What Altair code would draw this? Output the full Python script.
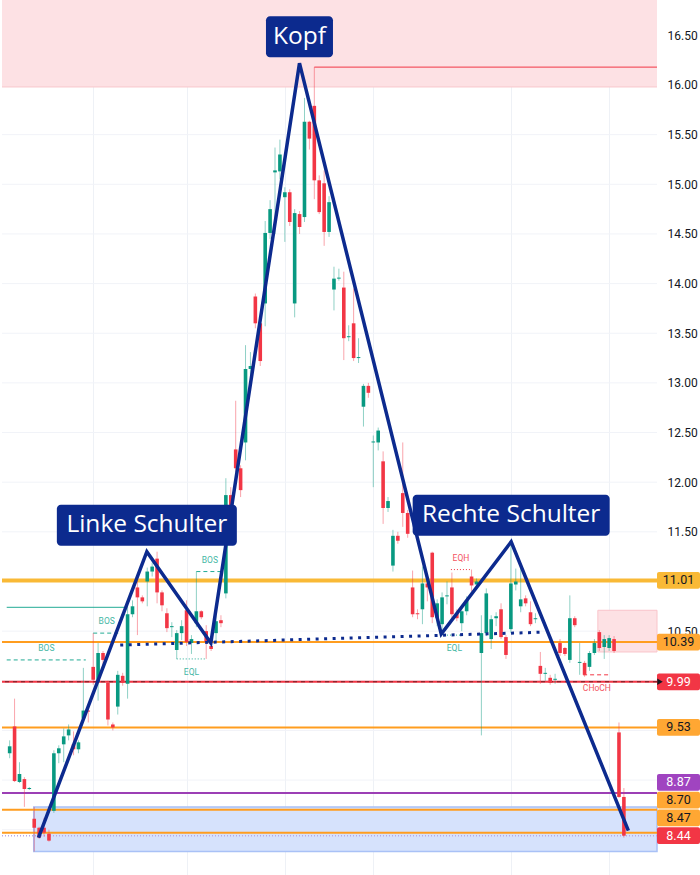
import altair as alt
import pandas as pd

# ---- daily candles (open / high / low / close) ----
opens = [9.27, 9.54, 8.98, 9.01, 8.91, 8.61, 8.52, 8.52, 8.46, 8.69,
         9.27, 9.36, 9.45, 9.36, 9.31, 9.62, 9.70, 10.14, 9.99, 10.28,
         9.98, 9.56, 9.74, 10.05, 9.97, 10.67, 10.94, 10.84, 11.00, 11.10,
         11.23, 10.89, 10.68, 10.54, 10.31, 10.48, 10.71, 10.38, 10.58, 10.70,
         10.50, 10.35, 10.48, 10.61, 10.88, 11.87, 12.33, 12.14, 12.40, 13.14,
         13.87, 13.60, 13.80, 14.51, 15.12, 15.13, 14.87, 14.92, 13.80, 14.70,
         14.67, 15.63, 15.79, 15.04, 15.01, 14.52, 13.94, 14.05, 13.96, 13.46,
         13.60, 13.25, 12.76, 12.97, 12.40, 12.40, 12.21, 11.74, 11.16, 11.46,
         11.89, 11.69, 10.94, 10.68, 10.72, 10.98, 11.29, 10.63, 10.57, 10.85,
         10.94, 10.68, 10.58, 10.70, 11.05, 10.97, 10.28, 10.48, 10.42, 10.63,
         10.72, 10.44, 10.52, 10.97, 10.75, 10.83, 10.69, 10.62, 10.15, 10.07,
         10.03, 10.01, 10.38, 10.33, 10.21, 10.63, 10.18, 10.18, 10.14, 10.28,
         10.49, 10.34, 10.33, 10.42, 9.48, 8.83]
highs = [9.40, 9.82, 9.18, 9.03, 8.93, 8.73, 8.53, 8.62, 8.50, 9.30,
         9.35, 9.52, 9.56, 9.49, 9.40, 10.13, 9.72, 10.48, 10.38, 10.30,
         10.00, 9.58, 10.10, 10.08, 10.78, 10.81, 11.01, 10.86, 11.14, 11.19,
         11.30, 10.91, 10.73, 10.59, 10.51, 10.61, 10.81, 10.46, 11.10, 10.71,
         10.56, 10.37, 10.66, 10.66, 12.04, 11.95, 12.82, 12.17, 13.38, 13.31,
         13.90, 13.65, 14.63, 14.84, 15.37, 15.45, 14.97, 14.95, 14.75, 14.73,
         15.87, 15.64, 16.18, 15.09, 15.14, 14.88, 14.17, 14.15, 14.12, 13.58,
         13.95, 13.45, 12.99, 13.00, 12.47, 12.55, 12.31, 11.85, 11.52, 11.50,
         12.40, 11.72, 11.11, 10.72, 11.15, 11.02, 11.30, 10.82, 10.89, 11.00,
         11.09, 10.72, 10.72, 10.85, 11.12, 11.03, 10.66, 10.93, 10.66, 10.69,
         10.78, 10.46, 11.40, 11.13, 11.13, 10.86, 10.80, 10.68, 10.29, 10.13,
         10.06, 10.07, 10.42, 10.34, 10.86, 10.65, 10.38, 10.20, 10.30, 10.42,
         10.51, 10.46, 10.46, 10.45, 9.58, 8.92]
lows = [9.22, 8.98, 8.97, 8.73, 8.90, 8.28, 8.41, 8.43, 8.38, 8.67,
        9.17, 9.18, 9.40, 9.25, 9.27, 9.60, 9.58, 9.96, 9.80, 10.15,
        9.55, 9.50, 9.66, 9.95, 9.82, 10.64, 10.46, 10.78, 10.75, 11.05,
        10.78, 10.70, 10.49, 10.44, 10.22, 10.41, 10.35, 10.27, 10.54, 10.62,
        10.22, 10.30, 10.39, 10.54, 10.83, 11.68, 12.10, 11.85, 12.22, 13.04,
        13.55, 13.17, 13.57, 14.45, 14.50, 15.05, 14.42, 14.58, 13.66, 14.50,
        14.62, 15.35, 14.85, 14.70, 14.38, 14.47, 13.73, 14.03, 13.23, 13.42,
        13.22, 13.20, 12.56, 12.85, 11.95, 12.32, 11.58, 11.70, 11.10, 11.38,
        11.55, 11.44, 10.64, 10.62, 10.57, 10.80, 10.58, 10.55, 10.50, 10.77,
        10.60, 10.60, 10.50, 10.66, 10.90, 10.93, 9.45, 10.45, 10.32, 10.55,
        10.42, 10.22, 10.48, 10.91, 10.69, 10.75, 10.55, 10.58, 9.97, 10.00,
        9.96, 9.97, 10.25, 10.25, 10.18, 10.54, 10.06, 10.04, 10.10, 10.26,
        10.30, 10.22, 10.30, 10.28, 8.82, 8.42]
closes = [9.34, 8.99, 9.06, 8.91, 8.92, 8.52, 8.42, 8.47, 8.39, 9.27,
          9.32, 9.44, 9.51, 9.31, 9.38, 9.70, 9.69, 10.01, 10.28, 10.21,
          9.61, 9.53, 10.06, 9.98, 10.67, 10.75, 10.84, 10.80, 11.10, 11.15,
          10.89, 10.76, 10.53, 10.55, 10.48, 10.55, 10.39, 10.42, 10.70, 10.64,
          10.39, 10.32, 10.60, 10.58, 11.87, 11.72, 12.14, 11.92, 13.14, 13.17,
          13.60, 13.22, 14.51, 14.75, 15.14, 15.30, 14.92, 14.62, 14.71, 14.57,
          15.63, 15.46, 15.04, 14.72, 14.52, 14.82, 14.05, 14.06, 13.45, 13.47,
          13.25, 13.26, 12.97, 12.90, 12.41, 12.52, 11.74, 11.81, 11.46, 11.41,
          11.69, 11.48, 10.67, 10.67, 10.98, 10.94, 10.64, 10.78, 10.84, 10.86,
          10.67, 10.63, 10.70, 10.81, 10.96, 11.00, 10.48, 10.88, 10.62, 10.65,
          10.44, 10.26, 10.98, 11.00, 10.82, 10.78, 10.57, 10.63, 10.07, 10.08,
          9.98, 10.02, 10.28, 10.27, 10.63, 10.56, 10.19, 10.06, 10.28, 10.38,
          10.33, 10.42, 10.43, 10.30, 8.83, 8.44]

# ---- head & shoulders outline (bar index, price) ----
pattern_idx = [5.87, 27.92, 40.94, 58.98, 87.83, 102.06, 125.91]
pattern_price = [8.42, 11.30, 10.38, 16.22, 10.47, 11.40, 8.49]
neck_idx = [22.5, 108.9]
neck_price = [10.36, 10.49]
hs_names = ["Linke Schulter", "Kopf", "Rechte Schulter"]
hs_point = [1, 3, 5]

# ---- horizontal levels shown on the price scale ----
level_vals = [11.01, 10.39, 9.99, 9.53, 8.87, 8.70, 8.47, 8.44]
level_kind = ["gold", "orange", "red", "orange", "purple", "orange", "orange", "last"]

# ---- market-structure marks ----
struct_names = ["BOS", "BOS", "BOS", "EQL", "EQL", "EQH", "CHoCH"]
struct_level = [10.21, 10.48, 11.10, 10.22, 10.46, 11.12, 10.06]
struct_start = [-0.6, 17.0, 38.0, 34.0, 89.0, 89.8, 116.7]
struct_end = [15.5, 22.5, 43.5, 40.0, 92.0, 93.9, 122.3]
trend_level, trend_start, trend_end = 10.74, -0.6, 23.7

# ---- zones ----
supply_top = [15.98, 17.2]      # upper red zone
demand_zone = [8.28, 8.73]      # lower blue zone
demand_start = 4.9
small_zone = [10.29, 10.71]
small_zone_start = 119.7
high_mark, high_mark_start = 16.18, 62.0

grid_idx = [17, 36, 56, 74, 102, 122]
grid_prices = [8.5 + 0.5 * k for k in range(17)]
# price labels that stay visible next to the level tags
price_labels = [10.5, 11.5, 12.0, 12.5, 13.0, 13.5, 14.0, 14.5, 15.0, 15.5, 16.0, 16.5]

# ---- layout / style ----
UP, DOWN = "#089981", "#f23645"
NAVY = "#0c2a8e"
TEAL = "#22ab94"
RED = "#f23645"
X_LO, X_HI = -0.54, 130.72
Y_LO, Y_HI = 8.044, 16.856
W, H = 655, 875
PX_Y = H / (Y_HI - Y_LO)

xscale = alt.Scale(domain=[X_LO, X_HI], nice=False, zero=False)
yscale = alt.Scale(domain=[Y_LO, Y_HI], nice=False, zero=False)
xaxis = alt.Axis(values=grid_idx, labels=False, ticks=False, domain=False,
                 grid=True, gridColor="#eef1f6", title=None)
yaxis = alt.Axis(orient="right", values=price_labels, format=".2f", ticks=False,
                 domain=False, grid=False, labelPadding=10,
                 labelFontSize=12, labelFont="Roboto", labelColor="#131722",
                 title=None)


def X(f):
    return alt.X(f, type="quantitative", scale=xscale, axis=xaxis)


def Y(f):
    return alt.Y(f, type="quantitative", scale=yscale, axis=yaxis)


layers = []

# horizontal grid
gp = pd.DataFrame({"p": grid_prices})
layers.append(alt.Chart(gp).mark_rule(color="#f1f3f8", strokeWidth=1).encode(y=Y("p")))

# zones
top_df = pd.DataFrame({"a": [supply_top[0]], "b": [supply_top[1]]})
layers.append(alt.Chart(top_df).mark_rect(color="#fde1e4", clip=True)
              .encode(x=alt.value(0), x2=alt.value(W), y=Y("a"), y2="b"))
layers.append(alt.Chart(top_df).mark_rule(color="#f8c7cc", strokeWidth=1)
              .encode(y=Y("a")))
dz = pd.DataFrame({"s": [demand_start], "a": [demand_zone[0]], "b": [demand_zone[1]]})
layers.append(alt.Chart(dz).mark_rect(color="#d6e2fc", stroke="#a9c1f6", strokeWidth=1.5)
              .encode(x=X("s"), x2=alt.value(W), y=Y("a"), y2="b"))
sz = pd.DataFrame({"s": [small_zone_start], "a": [small_zone[0]], "b": [small_zone[1]]})
layers.append(alt.Chart(sz).mark_rect(color="#fde1e4", stroke="#f9c4ca", strokeWidth=1)
              .encode(x=X("s"), x2=alt.value(W), y=Y("a"), y2="b"))

# level of the top high
hm = pd.DataFrame({"s": [high_mark_start], "p": [high_mark]})
layers.append(alt.Chart(hm).mark_rule(color=RED, strokeWidth=1)
              .encode(x=X("s"), x2=alt.value(W), y=Y("p")))

# horizontal levels
LINE_STYLE = {
    "gold": dict(color="#f9b936", strokeWidth=4),
    "orange": dict(color="#ff9d1f", strokeWidth=2),
    "red": dict(color=RED, strokeWidth=2),
    "purple": dict(color="#9c3fb5", strokeWidth=2),
    "last": dict(color="#b9a8e4", strokeWidth=1.5, strokeDash=[1, 2]),
}
for v, k in zip(level_vals, level_kind):
    d = pd.DataFrame({"p": [v]})
    layers.append(alt.Chart(d).mark_rule(**LINE_STYLE[k]).encode(y=Y("p")))
    if k == "red":
        layers.append(alt.Chart(d).mark_rule(color="#3a1216", strokeWidth=1,
                                             strokeDash=[4, 4], opacity=0.7)
                      .encode(y=Y("p")))

# trend line and structure segments
tl = pd.DataFrame({"s": [trend_start], "e": [trend_end], "p": [trend_level]})
layers.append(alt.Chart(tl).mark_rule(color=TEAL, strokeWidth=1, clip=True)
              .encode(x=X("s"), x2="e", y=Y("p")))

struct = pd.DataFrame({"name": struct_names, "p": struct_level,
                       "s": struct_start, "e": struct_end})
struct["mid"] = [(max(a, X_LO) + b) / 2 for a, b in zip(struct["s"], struct["e"])]
SEG_STYLE = {"BOS": (TEAL, [4, 3]), "EQL": (TEAL, [1, 2]),
             "EQH": (RED, [1, 2]), "CHoCH": (RED, [4, 3])}
for name, (col, dash) in SEG_STYLE.items():
    sub = struct[struct["name"] == name]
    layers.append(alt.Chart(sub).mark_rule(color=col, strokeWidth=1, strokeDash=dash, clip=True)
                  .encode(x=X("s"), x2="e", y=Y("p")))
    dy = -12 if name in ("BOS", "EQH") else 13
    layers.append(alt.Chart(sub).mark_text(color=col, fontSize=8.5, font="Roboto", dy=dy,
                                           opacity=0.85)
                  .encode(x=X("mid"), y=Y("p"), text="name:N"))

# candles
candles = pd.DataFrame({"i": range(len(opens)), "o": opens, "h": highs,
                        "l": lows, "c": closes})
candles["dir"] = ["up" if c >= o else "down" for o, c in zip(opens, closes)]
ccolor = alt.Color("dir:N", scale=alt.Scale(domain=["up", "down"], range=[UP, DOWN]),
                   legend=None)
layers.append(alt.Chart(candles).mark_rule(strokeWidth=1, opacity=0.45)
              .encode(x=X("i"), y=Y("l"), y2="h", color=ccolor))
layers.append(alt.Chart(candles).mark_bar(size=3.6)
              .encode(x=X("i"), y=Y("o"), y2="c", color=ccolor))

# head & shoulders outline and neckline
pat = pd.DataFrame({"i": pattern_idx, "p": pattern_price, "k": range(len(pattern_idx))})
layers.append(alt.Chart(pat).mark_line(color=NAVY, strokeWidth=3.5, strokeJoin="miter")
              .encode(x=X("i"), y=Y("p"), order="k:Q"))
neck = pd.DataFrame({"i": neck_idx, "p": neck_price})
layers.append(alt.Chart(neck).mark_line(color=NAVY, strokeWidth=3, strokeDash=[3, 5.5])
              .encode(x=X("i"), y=Y("p")))

# pattern labels
BOX_W = {"Linke Schulter": 180, "Kopf": 67, "Rechte Schulter": 197}
BOX_HH, GAP = 41, 6
for name, pt in zip(hs_names, hs_point):
    d = pd.DataFrame({"i": [pattern_idx[pt]], "p": [pattern_price[pt]], "t": [name]})
    w = BOX_W[name]
    layers.append(alt.Chart(d).mark_rect(color=NAVY, cornerRadius=4,
                                         xOffset=-w / 2, x2Offset=w / 2,
                                         yOffset=-(GAP + BOX_HH), y2Offset=-GAP)
                  .encode(x=X("i"), x2="i", y=Y("p"), y2="p"))
    layers.append(alt.Chart(d).mark_text(color="white", fontSize=24.5, font="Open Sans",
                                         baseline="middle", dy=-(GAP + BOX_HH / 2))
                  .encode(x=X("i"), y=Y("p"), text="t:N"))

# price-scale tags, stacked upward from the last price so they do not overlap
BOX_STYLE = {
    "gold": ("#f9b936", "#131722"),
    "orange": ("#ffa733", "#131722"),
    "red": (RED, "#ffffff"),
    "purple": ("#a044c0", "#ffffff"),
    "last": (RED, "#ffffff"),
}
TAG_H = 17.8 / PX_Y
centers = [0.0] * len(level_vals)
prev = None
for k in sorted(range(len(level_vals)), key=lambda j: level_vals[j]):
    c = level_vals[k]
    if prev is not None and c < prev + TAG_H:
        c = prev + TAG_H
    centers[k] = c
    prev = c
tags = pd.DataFrame({
    "v": level_vals,
    "c": centers,
    "lo": [c - TAG_H * 0.47 for c in centers],
    "hi": [c + TAG_H * 0.47 for c in centers],
    "fill": [BOX_STYLE[k][0] for k in level_kind],
    "tc": [BOX_STYLE[k][1] for k in level_kind],
    "label": [f"{v:.2f}" for v in level_vals],
})
layers.append(alt.Chart(tags).mark_rect(cornerRadius=2)
              .encode(x=alt.value(W), x2=alt.value(W + 43), y=Y("lo"), y2="hi",
                      color=alt.Color("fill:N", scale=None)))
layers.append(alt.Chart(tags).mark_text(fontSize=12.5, font="Roboto", align="center",
                                        baseline="middle")
              .encode(x=alt.value(W + 21.5), y=Y("c"), text="label:N",
                      color=alt.Color("tc:N", scale=None)))
arrow = tags[[k == "red" for k in level_kind]]
layers.append(alt.Chart(arrow).mark_point(shape="triangle-right", filled=True, size=40,
                                          color="#131722", opacity=1)
              .encode(x=alt.value(W + 3), y=Y("c")))

chart = (alt.layer(*layers)
         .properties(width=W, height=H, padding=0, background="white")
         .configure_view(stroke=None))

chart.save("out.html", embed_options={"renderer": "svg", "actions": False})
